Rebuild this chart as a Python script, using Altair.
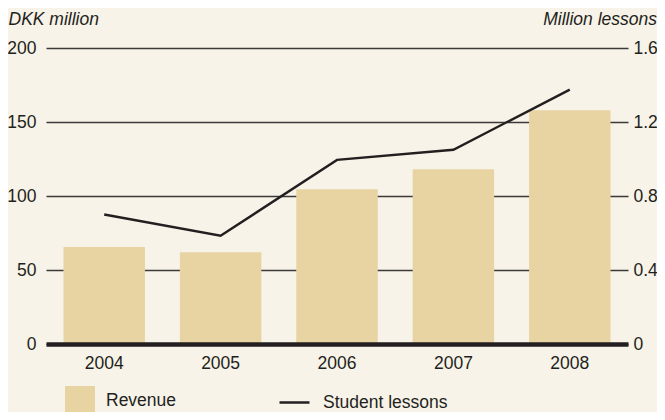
import altair as alt
import pandas as pd

years = ["2004", "2005", "2006", "2007", "2008"]
revenue = [65.5, 62, 104.5, 118, 158]
lessons = [0.70, 0.585, 0.995, 1.05, 1.375]

df = pd.DataFrame({
    "year": years,
    "revenue": revenue,
    "lessons": lessons,
    "rev_label": "Revenue",
    "les_label": "Student lessons",
})

FONT = "Liberation Sans"
TEXT = "#231f20"
BAR = "#e7d4a2"
BG = "#f8f3e8"
FS = 17.5

x = alt.X(
    "year:N",
    scale=alt.Scale(paddingInner=0.3, paddingOuter=0.15),
    axis=alt.Axis(
        title=None, labelAngle=0, labelFontSize=FS, labelPadding=10, ticks=False,
        domain=True, domainColor=TEXT, domainWidth=4.5, zindex=1,
        labelColor=TEXT, labelFont=FONT,
    ),
)

bars = alt.Chart(df).mark_bar(strokeWidth=0).encode(
    x=x,
    y=alt.Y(
        "revenue:Q",
        scale=alt.Scale(domain=[0, 200], nice=False),
        axis=alt.Axis(
            values=[0, 50, 100, 150, 200], grid=True, gridColor="#3a3a3a", gridWidth=1.3,
            domain=False, ticks=False, labelPadding=10, labelFontSize=FS, labelColor=TEXT,
            labelFont=FONT,
            title="DKK million", titleAngle=0, titleAlign="left", titleBaseline="alphabetic",
            titleX=-38, titleY=-23.5, titleFontStyle="italic", titleFontWeight="normal",
            titleFontSize=FS, titleFont=FONT, titleColor=TEXT,
        ),
    ),
    fill=alt.Fill(
        "rev_label:N",
        scale=alt.Scale(range=[BAR]),
        legend=alt.Legend(
            title=None, orient="none", legendX=19, legendY=338, symbolType="square",
            symbolSize=900, symbolStrokeWidth=0, symbolOpacity=1, labelFontSize=FS,
            labelOffset=11, padding=0, labelFont=FONT, labelColor=TEXT,
        ),
    ),
)

line = alt.Chart(df).mark_line(strokeWidth=2.4).encode(
    x=x,
    y=alt.Y(
        "lessons:Q",
        scale=alt.Scale(domain=[0, 1.6], nice=False),
        axis=alt.Axis(
            orient="right", values=[0, 0.4, 0.8, 1.2, 1.6], grid=False, domain=False,
            ticks=False, labelPadding=5, labelFontSize=FS, labelColor=TEXT, labelFont=FONT,
            labelExpr="datum.value == 0 ? '0' : format(datum.value, '.1f')",
            title="Million lessons", titleAngle=0, titleAlign="right",
            titleBaseline="alphabetic", titleX=28.5, titleY=-23.5,
            titleFontStyle="italic", titleFontWeight="normal", titleFontSize=FS,
            titleFont=FONT, titleColor=TEXT,
        ),
    ),
    stroke=alt.Stroke(
        "les_label:N",
        scale=alt.Scale(range=[TEXT]),
        legend=alt.Legend(
            title=None, orient="none", legendX=232, legendY=338, symbolType="stroke",
            symbolSize=900, symbolStrokeWidth=2.5, labelFontSize=FS, labelOffset=12,
            padding=0, labelFont=FONT, labelColor=TEXT,
        ),
    ),
)

chart = alt.layer(bars, line).resolve_scale(
    y="independent", fill="independent", stroke="independent"
).properties(
    width=582,
    height=296,
    autosize=alt.AutoSizeParams(type="none"),
    padding={"left": 38, "top": 40, "right": 29, "bottom": 68},
    background=BG,
).configure_view(stroke=None)

chart.save("out.html", embed_options={"renderer": "svg", "actions": False})
